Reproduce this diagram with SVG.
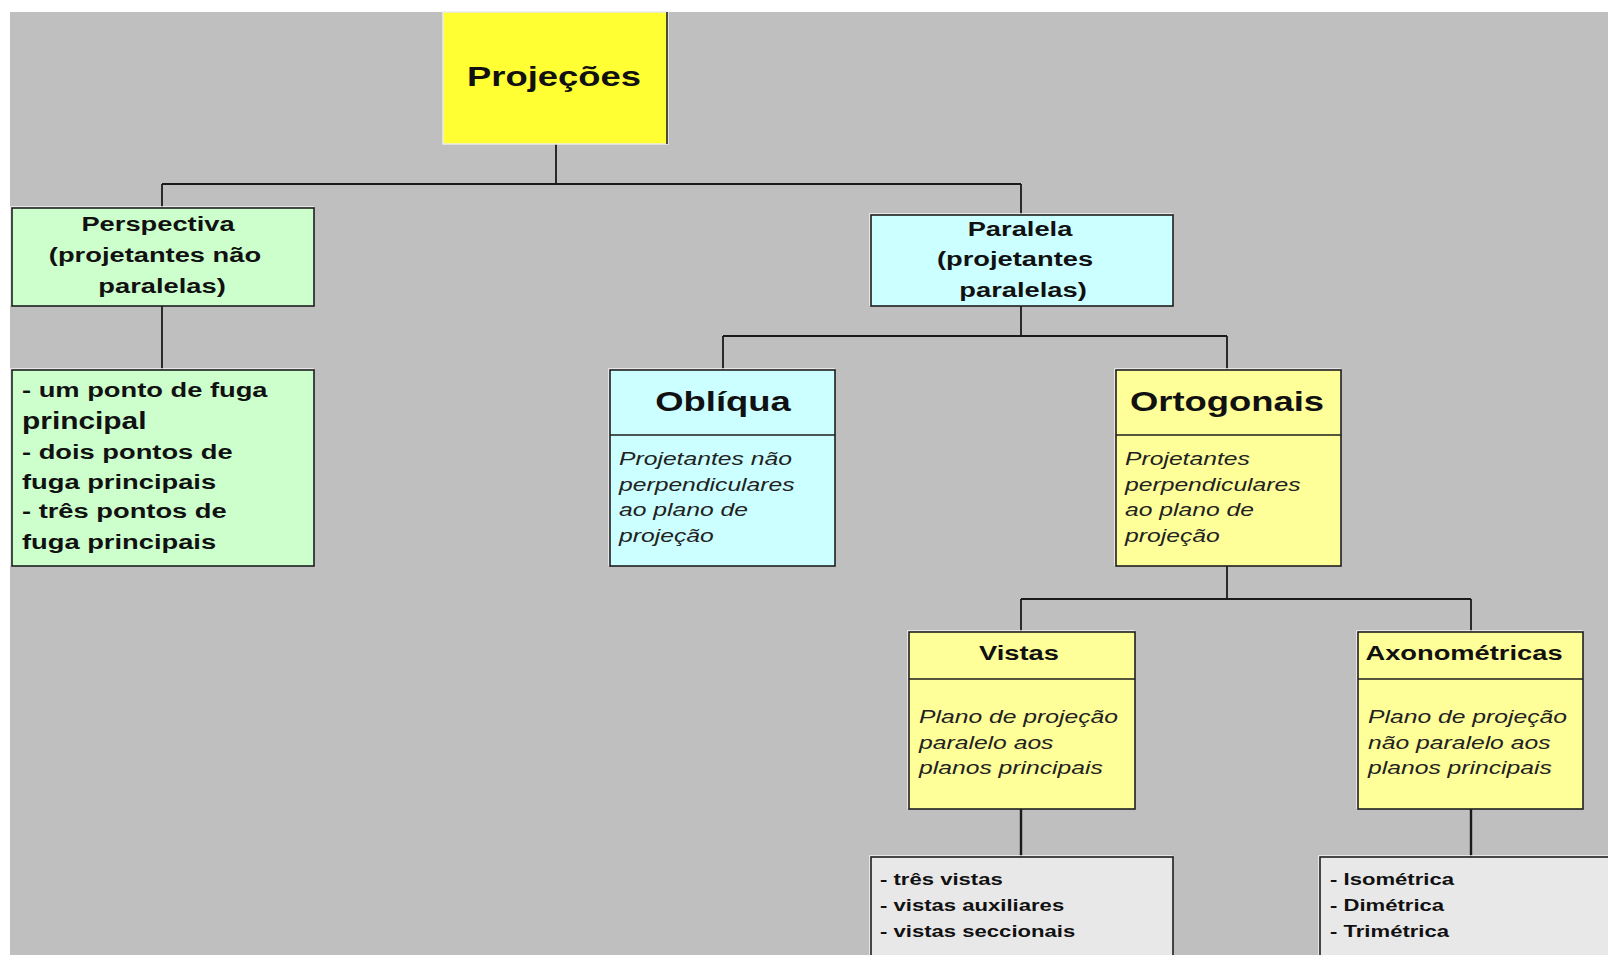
<svg xmlns="http://www.w3.org/2000/svg" width="1608" height="955" viewBox="0 0 1608 955">
<style>
.box{stroke:#1e1e1e;stroke-width:1.6}
.hl{fill:none;stroke:#f4f4f4;stroke-width:1.5}
.conn line{stroke:#1a1a1a;stroke-width:1.8}
.b{font-family:"Liberation Sans",Arial,sans-serif;font-weight:bold;fill:#111}
.i{font-family:"Liberation Sans",Arial,sans-serif;font-style:italic;fill:#222;font-size:19px}
.m{text-anchor:middle}
</style>
<rect x="0" y="0" width="1608" height="955" fill="#ffffff"/>
<rect x="10" y="12" width="1598" height="943" fill="#bfbfbf"/>

<g id="connectors" class="conn">
<line x1="556" y1="144" x2="556" y2="184"/>
<line x1="162" y1="184" x2="1021" y2="184"/>
<line x1="162" y1="184" x2="162" y2="208"/>
<line x1="1021" y1="184" x2="1021" y2="215"/>
<line x1="162" y1="306" x2="162" y2="370"/>
<line x1="1021" y1="306" x2="1021" y2="336"/>
<line x1="723" y1="336" x2="1227" y2="336"/>
<line x1="723" y1="336" x2="723" y2="370"/>
<line x1="1227" y1="336" x2="1227" y2="370"/>
<line x1="1227" y1="566" x2="1227" y2="599"/>
<line x1="1021" y1="599" x2="1471" y2="599"/>
<line x1="1021" y1="599" x2="1021" y2="632"/>
<line x1="1471" y1="599" x2="1471" y2="632"/>
<line x1="1021" y1="809" x2="1021" y2="857" style="stroke-width:2.4"/>
<line x1="1471" y1="809" x2="1471" y2="857" style="stroke-width:2.4"/>
</g>

<g id="projecoes">
<rect x="443" y="12" width="225" height="132" fill="#ffff33" stroke="#ececec" stroke-width="1.5"/>
<line x1="667" y1="12" x2="667" y2="144" stroke="#222" stroke-width="1.6"/>
<text class="b m" font-size="28" transform="translate(554,86) scale(1.3,1)">Projeções</text>
</g>

<g id="perspectiva">
<rect class="hl" x="11" y="207" width="302" height="98"/>
<rect class="box" x="12" y="208" width="302" height="98" fill="#ccffcc"/>
<text class="b m" font-size="21" transform="translate(158,231) scale(1.3,1)">Perspectiva</text>
<text class="b m" font-size="21" transform="translate(155,262) scale(1.3,1)">(projetantes não</text>
<text class="b m" font-size="21" transform="translate(162,293) scale(1.3,1)">paralelas)</text>
</g>

<g id="perspectiva-lista">
<rect class="hl" x="11" y="369" width="302" height="196"/>
<rect class="box" x="12" y="370" width="302" height="196" fill="#ccffcc"/>
<text class="b" font-size="21" transform="translate(22,397) scale(1.3,1)">- um ponto de fuga</text>
<text class="b" font-size="23" transform="translate(22,429) scale(1.3,1)">principal</text>
<text class="b" font-size="21" transform="translate(22,459) scale(1.3,1)">- dois pontos de</text>
<text class="b" font-size="21" transform="translate(22,489) scale(1.3,1)">fuga principais</text>
<text class="b" font-size="21" transform="translate(22,518) scale(1.3,1)">- três pontos de</text>
<text class="b" font-size="21" transform="translate(22,549) scale(1.3,1)">fuga principais</text>
</g>

<g id="paralela">
<rect class="hl" x="870" y="214" width="302" height="91"/>
<rect class="box" x="871" y="215" width="302" height="91" fill="#ccffff"/>
<text class="b m" font-size="21" transform="translate(1020,236) scale(1.3,1)">Paralela</text>
<text class="b m" font-size="21" transform="translate(1015,266) scale(1.3,1)">(projetantes</text>
<text class="b m" font-size="21" transform="translate(1023,297) scale(1.3,1)">paralelas)</text>
</g>

<g id="obliqua">
<rect class="hl" x="609" y="369" width="225" height="196"/>
<rect class="box" x="610" y="370" width="225" height="196" fill="#ccffff"/>
<line class="box" x1="610" y1="435" x2="835" y2="435"/>
<text class="b m" font-size="28" transform="translate(723,411) scale(1.3,1)">Oblíqua</text>
<text class="i" transform="translate(619,465) scale(1.3,1)">Projetantes não</text>
<text class="i" transform="translate(619,491) scale(1.3,1)">perpendiculares</text>
<text class="i" transform="translate(619,516) scale(1.3,1)">ao plano de</text>
<text class="i" transform="translate(619,542) scale(1.3,1)">projeção</text>
</g>

<g id="ortogonais">
<rect class="hl" x="1115" y="369" width="225" height="196"/>
<rect class="box" x="1116" y="370" width="225" height="196" fill="#ffff99"/>
<line class="box" x1="1116" y1="435" x2="1341" y2="435"/>
<text class="b m" font-size="28" transform="translate(1227,411) scale(1.3,1)">Ortogonais</text>
<text class="i" transform="translate(1125,465) scale(1.3,1)">Projetantes</text>
<text class="i" transform="translate(1125,491) scale(1.3,1)">perpendiculares</text>
<text class="i" transform="translate(1125,516) scale(1.3,1)">ao plano de</text>
<text class="i" transform="translate(1125,542) scale(1.3,1)">projeção</text>
</g>

<g id="vistas">
<rect class="hl" x="908" y="631" width="226" height="177"/>
<rect class="box" x="909" y="632" width="226" height="177" fill="#ffff99"/>
<line class="box" x1="909" y1="679" x2="1135" y2="679"/>
<text class="b m" font-size="21" transform="translate(1019,660) scale(1.3,1)">Vistas</text>
<text class="i" transform="translate(919,723) scale(1.3,1)">Plano de projeção</text>
<text class="i" transform="translate(919,749) scale(1.3,1)">paralelo aos</text>
<text class="i" transform="translate(919,774) scale(1.3,1)">planos principais</text>
</g>

<g id="axonometricas">
<rect class="hl" x="1357" y="631" width="225" height="177"/>
<rect class="box" x="1358" y="632" width="225" height="177" fill="#ffff99"/>
<line class="box" x1="1358" y1="679" x2="1583" y2="679"/>
<text class="b m" font-size="21" transform="translate(1464,660) scale(1.3,1)">Axonométricas</text>
<text class="i" transform="translate(1368,723) scale(1.3,1)">Plano de projeção</text>
<text class="i" transform="translate(1368,749) scale(1.3,1)">não paralelo aos</text>
<text class="i" transform="translate(1368,774) scale(1.3,1)">planos principais</text>
</g>

<g id="vistas-lista">
<rect class="hl" x="870" y="856" width="302" height="110"/>
<rect class="box" x="871" y="857" width="302" height="110" fill="#e8e8e8"/>
<text class="b" font-size="17" transform="translate(880,885) scale(1.3,1)">- três vistas</text>
<text class="b" font-size="17" transform="translate(880,911) scale(1.3,1)">- vistas auxiliares</text>
<text class="b" font-size="17" transform="translate(880,937) scale(1.3,1)">- vistas seccionais</text>
</g>

<g id="axonometricas-lista">
<rect class="hl" x="1319" y="856" width="300" height="110"/>
<rect class="box" x="1320" y="857" width="300" height="110" fill="#e8e8e8"/>
<text class="b" font-size="17" transform="translate(1330,885) scale(1.3,1)">- Isométrica</text>
<text class="b" font-size="17" transform="translate(1330,911) scale(1.3,1)">- Dimétrica</text>
<text class="b" font-size="17" transform="translate(1330,937) scale(1.3,1)">- Trimétrica</text>
</g>
</svg>
